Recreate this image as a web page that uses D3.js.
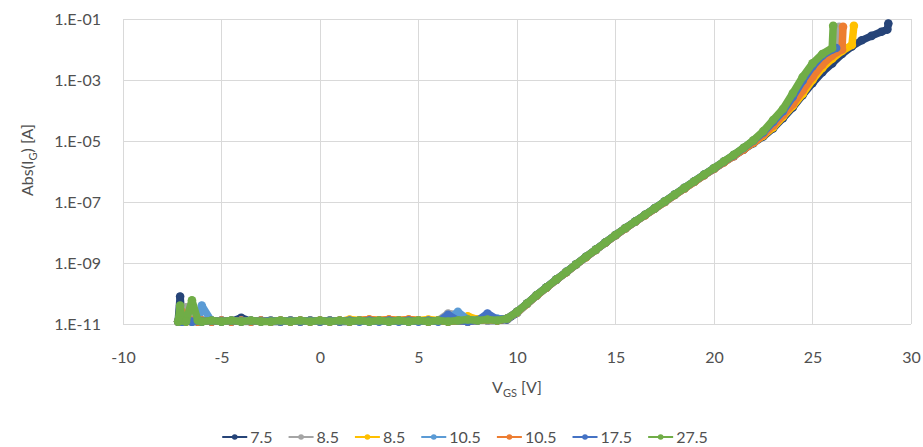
<!DOCTYPE html>
<html><head><meta charset="utf-8">
<script src="https://cdn.jsdelivr.net/npm/d3@7"></script>
<style>
body{margin:0;background:#fff;}
text{font-family:Lato,"Open Sans",sans-serif;fill:#505050;}
</style></head><body>
<svg id="c" width="923" height="447"></svg>
<script>
// ---------- data ----------
const seriesNames = ["7.5","8.5","8.5","10.5","10.5","17.5","27.5"];
const seriesColors = ["#264478","#A5A5A5","#FFC000","#5B9BD5","#ED7D31","#4472C4","#70AD47"];
const xTicks = [-10,-5,0,5,10,15,20,25,30];
const yTicks = [1e-1,1e-3,1e-5,1e-7,1e-9,1e-11];
const yTickLabels = ["1.E-01","1.E-03","1.E-05","1.E-07","1.E-09","1.E-11"];

// shared V_GS grid for the low-current and exponential regions
const vgsBody = [-7.2,-7.1,-7,-6.8,-6.5,-6.2,-6,-5.5,-5,-4.5,-4,-3.5,-3,-2.5,-2,-1.5,-1,-0.5,0,0.5,1,1.5,2,2.5,3,3.5,4,4.5,5,5.5,6,6.5,7,7.5,8,8.5,9,9.5,
  10,10.5,11,11.5,12,12.5,13,13.5,14,14.5,15,15.5,16,16.5,17,17.5,18,18.5,19,19.5,20,20.5,21,21.5,22];

const igBody_75 = [1.2e-11,8.0e-11,1.2e-11,1.3e-11,1.2e-11,1.2e-11,1.3e-11,1.2e-11,1.3e-11,1.2e-11,1.6e-11,1.2e-11,1.3e-11,1.2e-11,1.2e-11,1.3e-11,1.2e-11,1.3e-11,1.2e-11,1.3e-11,1.2e-11,1.2e-11,1.3e-11,1.2e-11,1.3e-11,1.2e-11,1.3e-11,1.2e-11,1.3e-11,1.2e-11,1.3e-11,1.2e-11,1.3e-11,1.2e-11,1.4e-11,1.3e-11,1.3e-11,1.4e-11,
  2.3e-11,4.5e-11,8.5e-11,1.55e-10,2.8e-10,5.0e-10,8.9e-10,1.55e-9,2.7e-9,4.7e-9,8.1e-9,1.35e-8,2.25e-8,3.7e-8,6.1e-8,1.0e-7,1.7e-7,2.8e-7,4.6e-7,7.6e-7,1.23e-6,2.0e-6,3.2e-6,5.2e-6,8.5e-6];
const igBody_85a = [1.2e-11,1.3e-11,1.2e-11,3.5e-11,1.2e-11,1.3e-11,1.2e-11,1.3e-11,1.2e-11,1.3e-11,1.2e-11,1.2e-11,1.3e-11,1.2e-11,1.3e-11,1.2e-11,1.3e-11,1.2e-11,1.3e-11,1.2e-11,1.3e-11,1.2e-11,1.3e-11,1.2e-11,1.3e-11,1.2e-11,1.3e-11,1.2e-11,1.3e-11,1.2e-11,1.3e-11,2.2e-11,2.0e-11,1.3e-11,1.4e-11,1.3e-11,1.4e-11,1.5e-11,
  2.4e-11,4.6e-11,8.7e-11,1.6e-10,2.85e-10,5.0e-10,9.0e-10,1.58e-9,2.7e-9,4.75e-9,8.2e-9,1.38e-8,2.28e-8,3.75e-8,6.2e-8,1.03e-7,1.72e-7,2.85e-7,4.7e-7,7.8e-7,1.26e-6,2.08e-6,3.4e-6,5.7e-6,9.6e-6];
const igBody_85b = [1.2e-11,1.3e-11,1.2e-11,1.3e-11,1.2e-11,1.3e-11,1.2e-11,1.3e-11,1.2e-11,1.3e-11,1.2e-11,1.3e-11,1.2e-11,1.3e-11,1.2e-11,1.3e-11,1.2e-11,1.3e-11,1.2e-11,1.3e-11,1.2e-11,1.4e-11,1.3e-11,1.4e-11,1.3e-11,1.4e-11,1.3e-11,1.4e-11,1.3e-11,1.4e-11,1.3e-11,1.4e-11,1.3e-11,1.8e-11,1.4e-11,1.5e-11,1.4e-11,1.5e-11,
  2.4e-11,4.5e-11,8.6e-11,1.56e-10,2.82e-10,5.0e-10,8.9e-10,1.56e-9,2.7e-9,4.7e-9,8.1e-9,1.36e-8,2.25e-8,3.7e-8,6.1e-8,1.01e-7,1.7e-7,2.8e-7,4.6e-7,7.7e-7,1.24e-6,2.02e-6,3.3e-6,5.4e-6,8.8e-6];
const igBody_105a = [1.2e-11,1.3e-11,1.2e-11,1.3e-11,1.2e-11,1.3e-11,4.0e-11,1.2e-11,1.3e-11,1.2e-11,1.3e-11,1.2e-11,1.3e-11,1.2e-11,1.3e-11,1.2e-11,1.3e-11,1.2e-11,1.3e-11,1.2e-11,1.3e-11,1.2e-11,1.3e-11,1.2e-11,1.3e-11,1.2e-11,1.3e-11,1.2e-11,1.3e-11,1.2e-11,1.3e-11,1.4e-11,2.5e-11,1.4e-11,1.3e-11,1.4e-11,1.5e-11,1.5e-11,
  2.5e-11,4.6e-11,8.8e-11,1.6e-10,2.88e-10,5.1e-10,9.0e-10,1.6e-9,2.72e-9,4.76e-9,8.2e-9,1.38e-8,2.28e-8,3.76e-8,6.2e-8,1.03e-7,1.72e-7,2.85e-7,4.7e-7,7.8e-7,1.25e-6,2.06e-6,3.35e-6,5.6e-6,9.3e-6];
const igBody_105b = [1.2e-11,1.3e-11,2.5e-11,1.2e-11,1.3e-11,1.2e-11,1.3e-11,1.2e-11,1.3e-11,1.2e-11,1.3e-11,1.2e-11,1.3e-11,1.2e-11,1.3e-11,1.2e-11,1.3e-11,1.2e-11,1.3e-11,1.2e-11,1.3e-11,1.2e-11,1.3e-11,1.4e-11,1.3e-11,1.4e-11,1.3e-11,1.4e-11,1.3e-11,1.2e-11,1.3e-11,1.2e-11,1.3e-11,1.2e-11,1.3e-11,1.4e-11,1.3e-11,1.5e-11,
  2.5e-11,4.6e-11,8.8e-11,1.58e-10,2.86e-10,5.0e-10,8.9e-10,1.57e-9,2.7e-9,4.72e-9,8.1e-9,1.37e-8,2.26e-8,3.72e-8,6.1e-8,1.01e-7,1.69e-7,2.8e-7,4.6e-7,7.6e-7,1.22e-6,2.0e-6,3.2e-6,5.3e-6,8.9e-6];
const igBody_175 = [1.2e-11,1.3e-11,1.2e-11,1.3e-11,1.2e-11,1.3e-11,1.2e-11,1.3e-11,1.2e-11,1.3e-11,1.2e-11,1.3e-11,1.2e-11,1.3e-11,1.2e-11,1.3e-11,1.2e-11,1.3e-11,1.2e-11,1.3e-11,1.2e-11,1.3e-11,1.2e-11,1.3e-11,1.2e-11,1.3e-11,1.2e-11,1.3e-11,1.2e-11,1.3e-11,1.2e-11,2.0e-11,1.3e-11,1.2e-11,1.3e-11,2.2e-11,1.4e-11,1.5e-11,
  2.5e-11,4.7e-11,8.9e-11,1.6e-10,2.9e-10,5.1e-10,9.1e-10,1.6e-9,2.75e-9,4.8e-9,8.3e-9,1.4e-8,2.3e-8,3.8e-8,6.3e-8,1.05e-7,1.74e-7,2.9e-7,4.8e-7,7.9e-7,1.28e-6,2.12e-6,3.45e-6,5.9e-6,1.02e-5];
const igBody_275 = [1.2e-11,4.0e-11,1.3e-11,1.2e-11,6.0e-11,1.3e-11,1.2e-11,1.3e-11,1.2e-11,1.3e-11,1.2e-11,1.3e-11,1.2e-11,1.2e-11,1.3e-11,1.2e-11,1.3e-11,1.2e-11,1.3e-11,1.2e-11,1.3e-11,1.2e-11,1.3e-11,1.2e-11,1.3e-11,1.2e-11,1.3e-11,1.2e-11,1.3e-11,1.2e-11,1.3e-11,1.2e-11,1.3e-11,1.4e-11,1.3e-11,1.4e-11,1.3e-11,1.5e-11,
  2.5e-11,4.7e-11,8.9e-11,1.6e-10,2.9e-10,5.1e-10,9.1e-10,1.6e-9,2.75e-9,4.8e-9,8.3e-9,1.4e-8,2.3e-8,3.8e-8,6.3e-8,1.05e-7,1.74e-7,2.9e-7,4.8e-7,7.9e-7,1.29e-6,2.14e-6,3.5e-6,6.0e-6,1.05e-5];

// high-current tails (each series ends at a different V_GS)
const vgsTail_75 = [22.5,23,23.5,24,24.5,25,25.5,26,26.5,27,27.5,28,28.5,28.8,28.85];
const igTail_75  = [1.4e-5,2.6e-5,5.6e-5,1.26e-4,3.2e-4,7.9e-4,1.8e-3,3.5e-3,7.1e-3,1.26e-2,2.0e-2,2.8e-2,3.8e-2,4.5e-2,7.1e-2];
const vgsTail_85a = [22.5,23,23.5,24,24.5,25,25.5,26,26.3,26.35];
const igTail_85a  = [1.8e-5,3.8e-5,8.9e-5,2.5e-4,7.9e-4,2.2e-3,5.0e-3,8.9e-3,1.12e-2,5.6e-2];
const vgsTail_85b = [22.5,23,23.5,24,24.5,25,25.5,26,26.5,27,27.1];
const igTail_85b  = [1.5e-5,2.8e-5,6.3e-5,1.4e-4,3.5e-4,1.0e-3,2.5e-3,5.0e-3,8.9e-3,1.4e-2,6.0e-2];
const vgsTail_105a = [22.5,23,23.5,24,24.5,25,25.5,26,26.3];
const igTail_105a  = [1.7e-5,3.3e-5,7.6e-5,1.9e-4,5.6e-4,1.6e-3,4.0e-3,7.9e-3,1.0e-2];
const vgsTail_105b = [22.5,23,23.5,24,24.5,25,25.5,26,26.5,26.55];
const igTail_105b  = [1.6e-5,3.2e-5,7.1e-5,1.6e-4,4.5e-4,1.26e-3,3.2e-3,6.3e-3,1.0e-2,5.6e-2];
const vgsTail_175 = [22.5,23,23.5,24,24.5,25,25.5,26,26.2];
const igTail_175  = [1.9e-5,4.2e-5,9.5e-5,2.8e-4,9.5e-4,2.8e-3,6.3e-3,1.0e-2,1.12e-2];
const vgsTail_275 = [22.5,23,23.5,24,24.5,25,25.5,26,26.05];
const igTail_275  = [2.1e-5,4.9e-5,1.12e-4,3.7e-4,1.26e-3,3.5e-3,7.1e-3,1.12e-2,6.0e-2];

const bodies = [igBody_75,igBody_85a,igBody_85b,igBody_105a,igBody_105b,igBody_175,igBody_275];
const tailsV = [vgsTail_75,vgsTail_85a,vgsTail_85b,vgsTail_105a,vgsTail_105b,vgsTail_175,vgsTail_275];
const tailsI = [igTail_75,igTail_85a,igTail_85b,igTail_105a,igTail_105b,igTail_175,igTail_275];

// ---------- chart ----------
const svg = d3.select("#c");
const X0 = 123, X1 = 911, Y0 = 19, Y1 = 324;
const x = d3.scaleLinear().domain([-10,30]).range([X0,X1]);
const y = d3.scaleLog().domain([1e-11,1e-1]).range([Y1,Y0]);

// gridlines
svg.append("g").selectAll("line").data(xTicks).join("line")
  .attr("x1",d=>x(d)).attr("x2",d=>x(d)).attr("y1",Y0).attr("y2",Y1)
  .attr("stroke","#D9D9D9").attr("stroke-width",1).attr("shape-rendering","crispEdges");
svg.append("g").selectAll("line").data(yTicks).join("line")
  .attr("x1",X0).attr("x2",X1).attr("y1",d=>y(d)).attr("y2",d=>y(d))
  .attr("stroke","#D9D9D9").attr("stroke-width",1).attr("shape-rendering","crispEdges");

// axes labels via d3 axes (no domain/ticks lines)
const xAxis = svg.append("g").attr("transform",`translate(0,${Y1})`)
  .call(d3.axisBottom(x).tickValues(xTicks).tickSize(0).tickPadding(28).tickFormat(d=>String(d)));
xAxis.select(".domain").remove();
xAxis.selectAll("text").style("font-size","16px").attr("fill","#505050").attr("font-family","Lato");
const yAxis = svg.append("g").attr("transform",`translate(${X0},0)`)
  .call(d3.axisLeft(y).tickValues(yTicks).tickSize(0).tickPadding(22).tickFormat((d,i)=>yTickLabels[i]));
yAxis.select(".domain").remove();
yAxis.selectAll("text").style("font-size","16px").attr("fill","#505050").attr("font-family","Lato");

// series
const line = d3.line().x(d=>x(d[0])).y(d=>y(d[1]));
const gS = svg.append("g");
bodies.forEach((b,s)=>{
  const pts = vgsBody.map((v,i)=>[v,b[i]]).concat(tailsV[s].map((v,i)=>[v,tailsI[s][i]]));
  const g = gS.append("g");
  g.append("path").datum(pts).attr("d",line).attr("fill","none")
    .attr("stroke",seriesColors[s]).attr("stroke-width",7.5).attr("stroke-linejoin","round").attr("stroke-linecap","round");
  g.selectAll("circle").data(pts).join("circle")
    .attr("cx",d=>x(d[0])).attr("cy",d=>y(d[1])).attr("r",4.3)
    .attr("fill",seriesColors[s]);
});

// axis titles
const yt = svg.append("text").attr("transform","translate(33,160) rotate(-90)")
  .attr("text-anchor","middle").style("font-size","16px");
yt.append("tspan").text("Abs(I");
yt.append("tspan").text("G").style("font-size","11px").attr("dy",4);
yt.append("tspan").text(") [A]").attr("dy",-4);
const xt = svg.append("text").attr("x",(X0+X1)/2).attr("y",393)
  .attr("text-anchor","middle").style("font-size","16px");
xt.append("tspan").text("V");
xt.append("tspan").text("GS").style("font-size","11px").attr("dy",4);
xt.append("tspan").text(" [V]").attr("dy",-4);

// legend
const lg = svg.append("g");
let cx = 0;
seriesNames.forEach((n,i)=>{
  const it = lg.append("g").attr("transform",`translate(${cx},0)`);
  it.append("line").attr("x1",0).attr("x2",25).attr("y1",0).attr("y2",0)
    .attr("stroke",seriesColors[i]).attr("stroke-width",2);
  it.append("circle").attr("cx",12.5).attr("cy",0).attr("r",2.8).attr("fill",seriesColors[i]);
  const t = it.append("text").attr("x",28).attr("y",5.5).style("font-size","16px").text(n);
  cx += 28 + t.node().getComputedTextLength() + 16;
});
const lw = cx - 16;
lg.attr("transform",`translate(${465 - lw/2},437)`);
</script>
</body></html>
